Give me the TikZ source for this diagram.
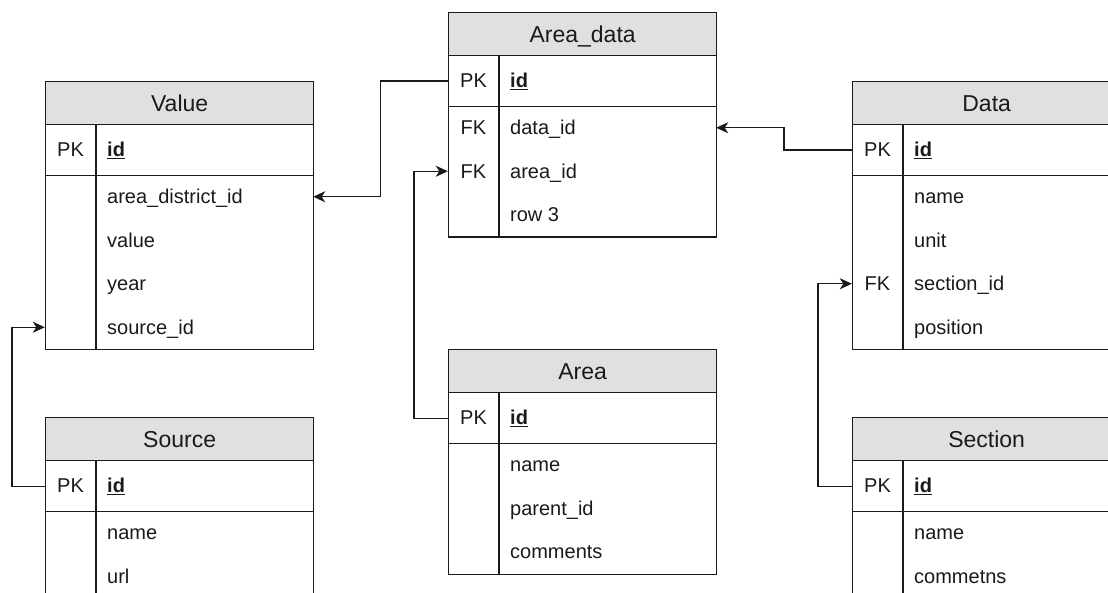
\documentclass[tikz,border=0pt]{standalone}
\usepackage{fontspec}
\setmainfont{Liberation Sans}
\usetikzlibrary{arrows.meta}
\definecolor{hdrgray}{HTML}{E0E0E0}
\definecolor{ink}{HTML}{1A1A1A}

\tikzset{
  tbl/.style={draw=ink, line width=1.3pt},
  hdr/.style={tbl, fill=hdrgray, minimum width=268pt, minimum height=43pt,
    inner sep=0pt, text height=16.5pt, text depth=0pt,
    font=\fontsize{23}{27}\selectfont, text=ink},
  pkrow/.style={tbl, minimum width=268pt, minimum height=51pt, inner sep=0pt},
  bodybox/.style={tbl, minimum width=268pt, inner sep=0pt},
  keytxt/.style={font=\fontsize{20}{24}\selectfont, text=ink, inner sep=0pt,
    text height=14.3pt, text depth=0pt},
  fldtxt/.style={font=\fontsize{20}{24}\selectfont, text=ink, inner sep=0pt,
    anchor=base west},
  rowslot/.style={minimum width=268pt, minimum height=43.5pt, inner sep=0pt},
  fk/.style={draw=ink, line width=1.3pt, -{Stealth[length=12pt,width=11pt,inset=3.5pt]}},
}

% \erdtable{id}{left}{top}{title}{number of rows}{key/field list}
\newcommand{\erdtable}[6]{%
  \node[hdr, anchor=north west] (#1-h) at (#2,#3) {#4};
  \node[pkrow, anchor=north west] (#1-pk) at (#2,{#3+43}) {};
  \node[keytxt] (#1-pkk) at ({#2+25.5},{#3+68.5}) {PK};
  \node[fldtxt] (#1-pkf) at ({#2+62},{#3+75.7}) {\underline{\textbf{id}}};
  \node[bodybox, anchor=north west, minimum height={#5*43.5}] (#1-b) at (#2,{#3+94}) {};
  \draw[tbl] ({#2+51},{#3+43}) -- ({#2+51},{#3+94+#5*43.5});
  \foreach \k/\f [count=\i] in {#6} {
    \node[rowslot] (#1-r\i) at ({#2+134},{#3+94+(\i-0.5)*43.5}) {};
    \node[keytxt] (#1-k\i) at ({#2+25.5},{#3+94+(\i-0.5)*43.5}) {\k};
    \node[fldtxt] (#1-f\i) at ({#2+62},{#3+94+(\i-0.5)*43.5+7.2}) {\f};
  }
}

\begin{document}
\begin{tikzpicture}[x=1pt, y=-1pt]
  \useasboundingbox (0,0) rectangle (1108,593);
  \clip (0,0) rectangle (1108,593);

  \erdtable{value}{45}{81}{Value}{4}{{}/area\_district\_id, {}/value, {}/year, {}/source\_id}
  \erdtable{source}{45}{417}{Source}{3}{{}/name, {}/url, {}/{}}
  \erdtable{adata}{448}{12}{Area\_data}{3}{FK/data\_id, FK/area\_id, {}/row 3}
  \erdtable{area}{448}{349}{Area}{3}{{}/name, {}/parent\_id, {}/comments}
  \erdtable{data}{852}{81}{Data}{4}{{}/name, {}/unit, FK/section\_id, {}/position}
  \erdtable{section}{852}{417}{Section}{3}{{}/name, {}/commetns, {}/{}}

  % foreign-key connectors
  \draw[fk] (adata-pk.west) -- ++(-67.5,0) |- (value-r1.east);
  \draw[fk] (source-pk.west) -- ++(-33,0) |- (value-r4.west);
  \draw[fk] (area-pk.west) -- ++(-34,0) |- (adata-r2.west);
  \draw[fk] (data-pk.west) -- ++(-68,0) |- (adata-r1.east);
  \draw[fk] (section-pk.west) -- ++(-34,0) |- (data-r3.west);
\end{tikzpicture}
\end{document}
